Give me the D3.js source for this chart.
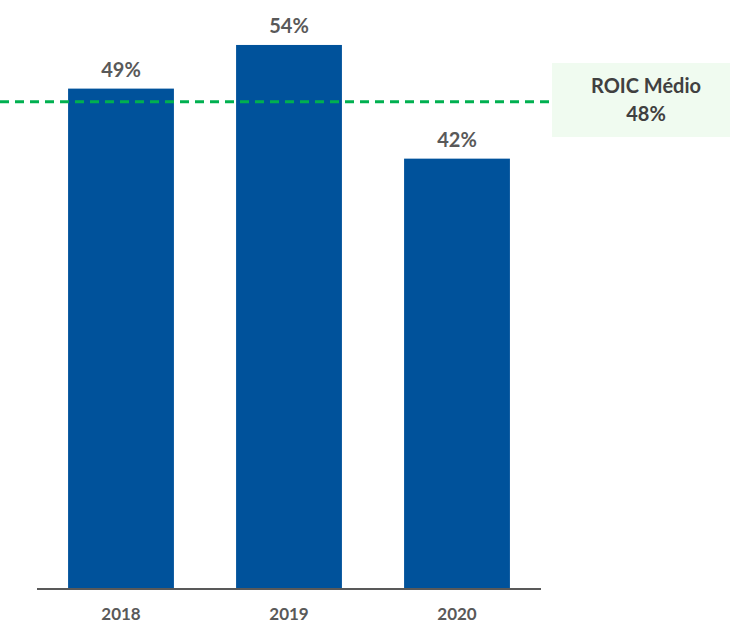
<!DOCTYPE html>
<html><head><meta charset="utf-8">
<script src="https://cdn.jsdelivr.net/npm/d3@7"></script>
<style>body{margin:0;background:#fff;} svg{display:block;}</style>
</head><body>
<svg id="c" width="730" height="624"></svg>
<script>
const categories = ["2018", "2019", "2020"];
const values = [49.3, 53.6, 42.4];
const valueLabels = ["49%", "54%", "42%"];
const averageValue = 48;
const averageLabel = "ROIC Médio";
const averageValueLabel = "48%";

const svg = d3.select("#c");
const font = "Lato, 'Open Sans', sans-serif";
const x = d3.scaleBand().domain(categories).range([37, 541]).paddingInner(0.37).paddingOuter(0.185);
const y = d3.scaleLinear().domain([0, 100]).range([589, 589 - 1015]);

svg.selectAll("rect.bar").data(values).enter().append("rect")
  .attr("class", "bar")
  .attr("x", (d, i) => x(categories[i]))
  .attr("width", x.bandwidth())
  .attr("y", d => y(d))
  .attr("height", d => y(0) - y(d))
  .attr("fill", "#00529B");

svg.selectAll("text.val").data(values).enter().append("text")
  .attr("x", (d, i) => x(categories[i]) + x.bandwidth() / 2)
  .attr("y", d => y(d) - 12)
  .attr("text-anchor", "middle")
  .attr("font-family", font).attr("font-weight", "bold").attr("font-size", 20)
  .attr("fill", "#595959")
  .text((d, i) => valueLabels[i]);

// axis
const ax = svg.append("g").attr("transform", `translate(0,${y(0)})`)
  .call(d3.axisBottom(x).tickSize(0).tickPadding(19));
ax.select(".domain").attr("stroke", "#595959").attr("stroke-width", 2).attr("d", "M37,0H541");
ax.selectAll("text").attr("font-family", font).attr("font-weight", "bold").attr("font-size", 17).attr("fill", "#595959");

// average line
svg.append("line")
  .attr("x1", 0).attr("x2", 549)
  .attr("y1", y(averageValue)).attr("y2", y(averageValue))
  .attr("stroke", "#00B050").attr("stroke-width", 3)
  .attr("stroke-dasharray", "9,6");

svg.append("rect").attr("x", 552).attr("y", 63).attr("width", 178).attr("height", 74).attr("fill", "#F0FBF0");
svg.append("text").attr("x", 646).attr("y", 93).attr("text-anchor", "middle")
  .attr("font-family", font).attr("font-weight", "bold").attr("font-size", 20).attr("fill", "#404040")
  .text(averageLabel);
svg.append("text").attr("x", 646).attr("y", 121).attr("text-anchor", "middle")
  .attr("font-family", font).attr("font-weight", "bold").attr("font-size", 20).attr("fill", "#404040")
  .text(averageValueLabel);
</script>
</body></html>
